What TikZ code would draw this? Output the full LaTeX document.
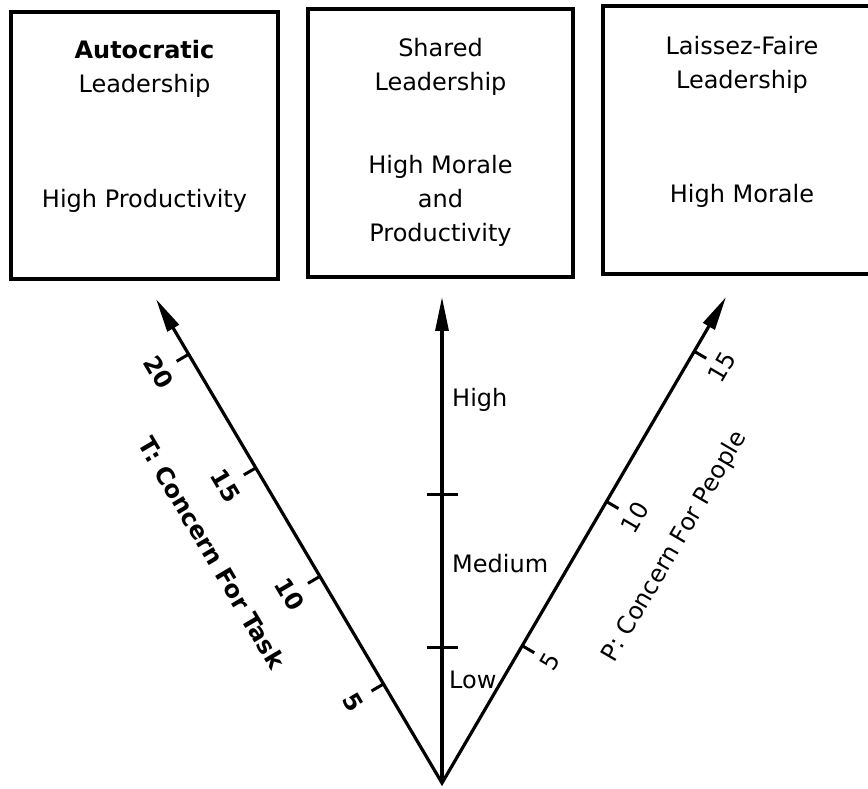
\documentclass[tikz,border=0pt]{standalone}
\usepackage{fontspec}
\setmainfont{DejaVu Sans}
\usetikzlibrary{arrows.meta,calc}

\tikzset{
  every node/.style={font=\fontsize{24}{34}\selectfont},
  leadbox/.style={draw, line width=3.4pt, inner sep=0pt},
  boxtext/.style={align=center, inner sep=0pt},
  axisline/.style={line width=3.2pt},
  tickmark/.style={line width=3pt},
  tasknum/.style={rotate=-59.4, inner sep=0pt},
  peoplenum/.style={rotate=59.7, inner sep=0pt},
  levellabel/.style={anchor=base west, inner sep=0pt}
}

\begin{document}
\begin{tikzpicture}[x=1pt, y=1pt, >={Triangle[length=34pt, width=13pt]}]
            \useasboundingbox (0,0) rectangle (868,788);

            % Boxes
            \node[leadbox, minimum width=267pt, minimum height=267pt] (autoBox) at (144.5,642.5) {};
            \node[leadbox, minimum width=265pt, minimum height=268pt] (sharedBox) at (440.5,645) {};
            \node[leadbox, minimum width=278pt, minimum height=268pt] (laissezBox) at (742,648) {};

            \node[boxtext, anchor=north] (autoTitle) at (144.5,748) {\textbf{Autocratic}\\Leadership};
            \node[boxtext, anchor=base] (autoResult) at (144.5,580) {High Productivity};
            \node[boxtext, anchor=north] (sharedTitle) at (440.5,750) {Shared\\Leadership};
            \node[boxtext, anchor=north] (sharedResult) at (440.5,633) {High Morale\\and\\Productivity};
            \node[boxtext, anchor=north] (laissezTitle) at (742,752) {Laissez-Faire\\Leadership};
            \node[boxtext, anchor=base] (laissezResult) at (742,585) {High Morale};

            % Assi
            \coordinate (O) at (442,5);
            \coordinate (taskTip) at (156,489);
            \coordinate (midTip) at (442,491);
            \coordinate (peopleTip) at (726,491);

            \draw[axisline, <->] (taskTip) -- (O) -- (peopleTip);
            \draw[axisline, ->] (O) -- (midTip);

            % Asse centrale
            \draw[tickmark] (427,293) -- (458,293);
            \draw[tickmark] (427,141) -- (458,141);
            \node[levellabel] (high) at (452,381) {High};
            \node[levellabel] (medium) at (452,215) {Medium};
            \node[levellabel] (low) at (449,100) {Low};

            % Asse T
            \coordinate (t5) at ($(O)!115pt!(taskTip)$);
            \coordinate (t10) at ($(O)!240pt!(taskTip)$);
            \coordinate (t15) at ($(O)!366pt!(taskTip)$);
            \coordinate (t20) at ($(O)!498pt!(taskTip)$);

            \draw[tickmark] (t5) -- ++(-12,-7);
            \draw[tickmark] (t10) -- ++(-12,-7);
            \draw[tickmark] (t15) -- ++(-12,-7);
            \draw[tickmark] (t20) -- ++(-12,-7);

            \node[tasknum] (t5num) at ($(t5)+(-30,-18)$) {\textbf{5}};
            \node[tasknum] (t10num) at ($(t10)+(-30,-18)$) {\textbf{10}};
            \node[tasknum] (t15num) at ($(t15)+(-30,-18)$) {\textbf{15}};
            \node[tasknum] (t20num) at ($(t20)+(-30,-18)$) {\textbf{20}};

            \node[tasknum] (taskLabel) at (212,235) {\textbf{T: Concern For Task}};

            % Asse P
            \coordinate (p5) at ($(O)!159pt!(peopleTip)$);
            \coordinate (p10) at ($(O)!326pt!(peopleTip)$);
            \coordinate (p15) at ($(O)!500pt!(peopleTip)$);

            \draw[tickmark] (p5) -- ++(12,-7);
            \draw[tickmark] (p10) -- ++(12,-7);
            \draw[tickmark] (p15) -- ++(12,-7);

            \node[peoplenum] (p5num) at ($(p5)+(28,-16)$) {5};
            \node[peoplenum] (p10num) at ($(p10)+(28,-16)$) {10};
            \node[peoplenum] (p15num) at ($(p15)+(28,-16)$) {15};

            \node[peoplenum] (peopleLabel) at (675,241) {P: Concern For People};
\end{tikzpicture}
\end{document}
